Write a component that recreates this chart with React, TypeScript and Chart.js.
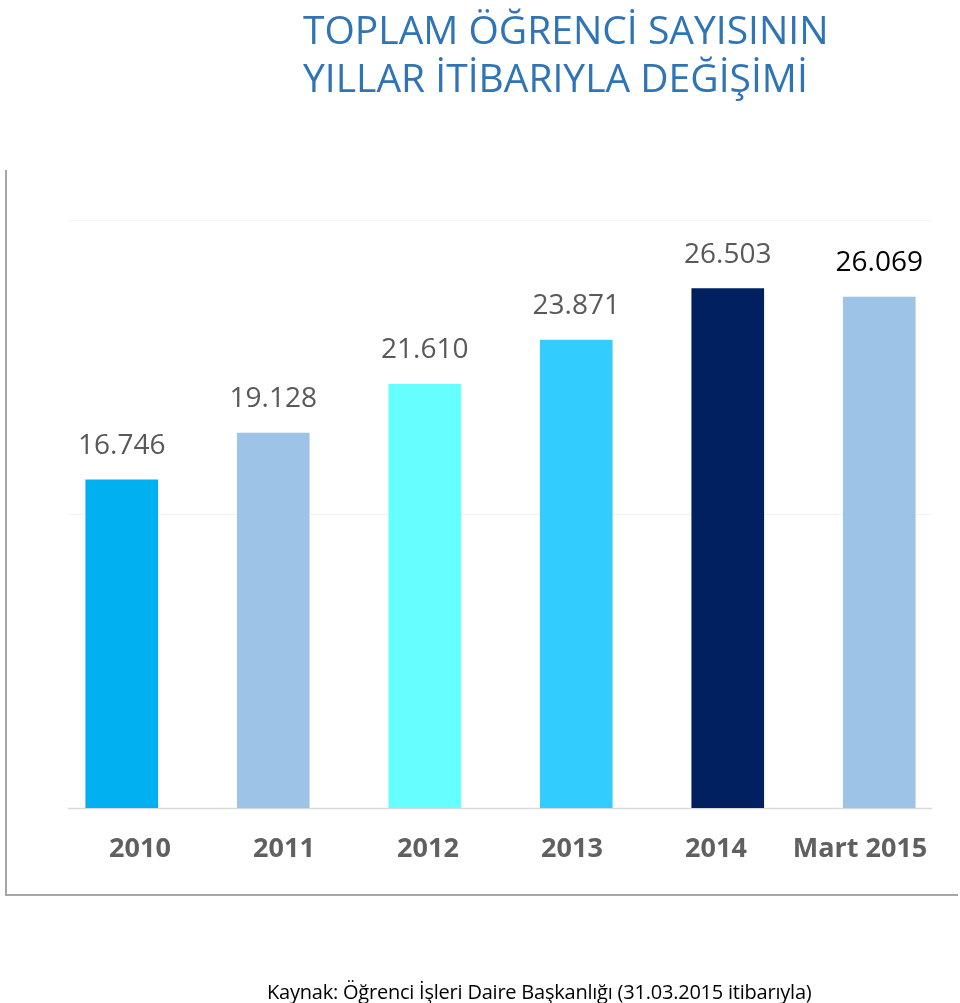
import React, { useEffect, useRef } from "react";
import { Chart, registerables } from "chart.js";

Chart.register(...registerables);

const categories = ["2010", "2011", "2012", "2013", "2014", "Mart 2015"];
const studentCounts = [16746, 19128, 21610, 23871, 26503, 26069];
const barColors = ["#00B0F0", "#9DC3E6", "#66FFFF", "#33CCFF", "#002060", "#9DC3E6"];
const labelColors = ["#595959", "#595959", "#595959", "#595959", "#595959", "#000000"];
const yTicks = [0, 15000, 30000];

const titleLines = ["TOPLAM ÖĞRENCİ SAYISININ", "YILLAR İTİBARIYLA DEĞİŞİMİ"];
const sourceText = "Kaynak: Öğrenci İşleri Daire Başkanlığı (31.03.2015 itibarıyla)";

function formatTr(v: number): string {
  const th = Math.floor(v / 1000);
  const rest = String(v % 1000).padStart(3, "0");
  return th > 0 ? `${th}.${rest}` : String(v);
}

function gridExtent(chartArea: any) {
  return { left: chartArea.left + 22, right: chartArea.right - 23 };
}

const gridPlugin = {
  id: "customGrid",
  beforeDatasetsDraw(chart: any) {
    const { ctx, chartArea, scales } = chart;
    const y = scales.y;
    const g = gridExtent(chartArea);
    ctx.save();
    yTicks.forEach((t) => {
      const py = Math.round(y.getPixelForValue(t)) + 0.5;
      ctx.strokeStyle = t === 0 ? "#D9D9D9" : "#F2F2F2";
      ctx.lineWidth = t === 0 ? 1.5 : 1;
      ctx.beginPath();
      ctx.moveTo(g.left, py);
      ctx.lineTo(g.right, py);
      ctx.stroke();
    });
    ctx.restore();
  },
};

const labelPlugin = {
  id: "valueLabels",
  afterDatasetsDraw(chart: any) {
    const { ctx, chartArea } = chart;
    const meta = chart.getDatasetMeta(0);
    ctx.save();
    ctx.font = "28px 'Open Sans'";
    ctx.textAlign = "center";
    ctx.textBaseline = "middle";
    meta.data.forEach((bar: any, i: number) => {
      ctx.fillStyle = labelColors[i];
      ctx.fillText(formatTr(studentCounts[i]), bar.x, bar.y - 34);
    });
    // category labels, spread over the gridline span
    const g = gridExtent(chartArea);
    const step = (g.right - g.left) / categories.length;
    ctx.font = "bold 27px 'Open Sans'";
    ctx.fillStyle = "#606060";
    categories.forEach((c, i) => {
      ctx.fillText(c, g.left + step * (i + 0.5), chartArea.bottom + 41);
    });
    ctx.restore();
  },
};

export default function App() {
  const ref = useRef<HTMLCanvasElement | null>(null);

  useEffect(() => {
    if (!ref.current) return;
    const chart = new Chart(ref.current, {
      type: "bar",
      data: {
        labels: categories,
        datasets: [
          {
            data: studentCounts,
            backgroundColor: barColors,
            borderWidth: 0,
            barThickness: 72,
          },
        ],
      },
      options: {
        animation: false,
        responsive: false,
        maintainAspectRatio: false,
        devicePixelRatio: 1,
        layout: { padding: { left: 46, right: 5, top: 220, bottom: 195 } },
        plugins: {
          legend: { display: false },
          title: { display: false },
          tooltip: { enabled: false },
        },
        scales: {
          x: {
            offset: true,
            grid: { display: false, drawTicks: false, tickLength: 0 },
            border: { display: false },
            afterFit: (scale: any) => {
              scale.paddingLeft = 0;
              scale.paddingRight = 0;
              scale.height = 0;
            },
            ticks: { display: false },
          },
          y: {
            display: false,
            min: 0,
            max: 30000,
            ticks: { stepSize: 15000 },
          },
        },
      },
      plugins: [gridPlugin, labelPlugin],
    });
    return () => chart.destroy();
  }, []);

  return (
    <div style={{ position: "absolute", left: 0, top: 0, width: 960, height: 1003, background: "#fff", overflow: "hidden" }}>
      <div
        style={{
          position: "absolute",
          left: 5,
          top: 170,
          width: 953,
          height: 726,
          borderLeft: "2px solid #A6A6A6",
          borderBottom: "2px solid #A6A6A6",
          boxSizing: "border-box",
        }}
      />
      <canvas ref={ref} width={960} height={1003} style={{ position: "absolute", left: 0, top: 0, width: 960, height: 1003 }} />
      <div
        style={{
          position: "absolute",
          left: 303,
          top: 5,
          fontFamily: "'Open Sans'",
          fontSize: 39,
          lineHeight: "48px",
          color: "#2F75B5",
          whiteSpace: "nowrap",
        }}
      >
        {titleLines.map((l) => (
          <div key={l}>{l}</div>
        ))}
      </div>
      <div
        style={{
          position: "absolute",
          left: 267,
          top: 978,
          fontFamily: "'Open Sans'",
          fontSize: 20,
          letterSpacing: "-0.22px",
          lineHeight: "27px",
          color: "#000",
          whiteSpace: "nowrap",
        }}
      >
        {sourceText}
      </div>
    </div>
  );
}
